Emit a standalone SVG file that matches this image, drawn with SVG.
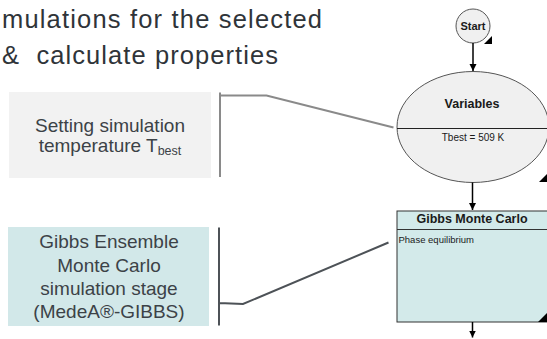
<svg xmlns="http://www.w3.org/2000/svg" width="547" height="339" viewBox="0 0 547 339">
<defs>
<style>
.title{font-family:"Liberation Sans",Arial,sans-serif;font-size:25.5px;fill:#2f3439}
.lbl{font-family:"Liberation Sans",Arial,sans-serif;font-size:19px;fill:#3c4247;text-anchor:middle}
.sub{font-size:12.5px}
.fb{font-family:"Liberation Sans",Arial,sans-serif;font-weight:bold;font-size:12.5px;fill:#1a1a1a;text-anchor:middle}
.fs{font-family:"Liberation Sans",Arial,sans-serif;font-size:9.5px;fill:#1a1a1a}
.node{stroke:#555;stroke-width:1}
.flow{stroke:#000;stroke-width:1.5;fill:none}
.corner{fill:#000}
</style>
<marker id="ah" markerWidth="8" markerHeight="8" refX="7" refY="4" orient="auto" markerUnits="userSpaceOnUse">
<path d="M0,0.5 L7,4 L0,7.5 Z" fill="#000"/>
</marker>
</defs>
<rect width="547" height="339" fill="#fff"/>
<g id="title">
<text class="title" x="2" y="28" textLength="320" lengthAdjust="spacing">mulations for the selected</text>
<text class="title" x="2" y="63.5" textLength="276" lengthAdjust="spacing">&amp;&#160; calculate properties</text>
</g>
<g id="label-tbest">
<rect x="9" y="92" width="202" height="86" fill="#f2f2f2"/>
<text class="lbl" x="110" y="132">Setting simulation</text>
<text class="lbl" x="110" y="152">temperature T<tspan class="sub" dy="3">best</tspan></text>
</g>
<g id="label-gibbs">
<rect x="8" y="227" width="201" height="99" fill="#d2e8e9"/>
<text class="lbl" x="109" y="248">Gibbs Ensemble</text>
<text class="lbl" x="109" y="271.5">Monte Carlo</text>
<text class="lbl" x="109" y="295">simulation stage</text>
<text class="lbl" x="109" y="318">(MedeA®-GIBBS)</text>
</g>
<g id="start">
<circle class="node" cx="473" cy="26" r="17" fill="#f0f0f0"/>
<text class="fb" x="473" y="30" style="font-size:11px">Start</text>
<path class="corner" d="M484,44 L492,44 L492,36 Z"/>
</g>
<g id="variables">
<ellipse class="node" cx="473" cy="127" rx="76" ry="55.5" fill="#f0f0f0"/>
<line x1="397" y1="128.5" x2="547" y2="128.5" stroke="#222" stroke-width="1"/>
<text class="fb" x="472" y="108">Variables</text>
<text class="fs" x="473" y="141" text-anchor="middle" style="font-size:10px">Tbest = 509 K</text>
<path class="corner" d="M539,182 L547,182 L547,174 Z"/>
</g>
<g id="gibbs">
<rect x="397" y="211" width="152" height="111" fill="#d3eaea" stroke="#333" stroke-width="1"/>
<line x1="397" y1="229.5" x2="547" y2="229.5" stroke="#333" stroke-width="1"/>
<text class="fb" x="472" y="223">Gibbs Monte Carlo</text>
<text class="fs" x="398.5" y="242.5">Phase equilibrium</text>
<path class="corner" d="M538,322 L547,322 L547,313 Z"/>
</g>
<g id="connectors">
<line class="flow" x1="473" y1="43" x2="473" y2="71" marker-end="url(#ah)"/>
<line class="flow" x1="472.5" y1="182.5" x2="472.5" y2="210" marker-end="url(#ah)"/>
<line class="flow" x1="472.5" y1="322" x2="472.5" y2="337.5" marker-end="url(#ah)"/>
<path d="M220,92.5 V177 M220,95.5 H266.5 L393.5,127.5" fill="none" stroke="#8a8a8a" stroke-width="2"/>
<path d="M219,227.5 V325.5 M219,303 L243,304 L388.5,242.5" fill="none" stroke="#4d5257" stroke-width="2"/>
</g>
</svg>
